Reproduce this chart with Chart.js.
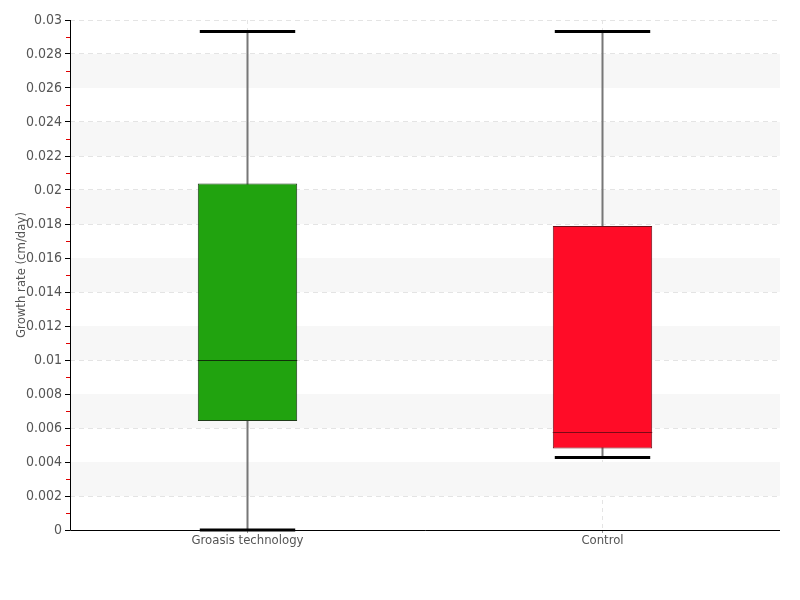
<!DOCTYPE html>
<html>
<head>
  <meta charset="UTF-8">
  <title>Growth rate</title>
  <style>
    body { margin: 0; padding: 0; overflow: hidden; background: #fff; }
    #chart-container { width: 800px; height: 600px; }
  </style>
  <script src="https://cdn.jsdelivr.net/npm/chart.js"></script>
</head>
<body>
  <div id="chart-container">
    <canvas id="chart" width="800" height="600"></canvas>
  </div>

  <script>
    var categories = ['Groasis technology', 'Control'];
    var minValues = [0.0, 0.00427];
    var q1Values = [0.00641, 0.00479];
    var medianValues = [0.0100, 0.00579];
    var q3Values = [0.02038, 0.01788];
    var maxValues = [0.02932, 0.02932];
    var boxColors = ['#21a30f', '#ff0c27'];
    var boxBorders = ['#1e3b18', '#6e1019'];
    var medianColors = ['#10300a', '#7d0a16'];

    var FONT = "'DejaVu Sans Condensed'";

    var boxes = q1Values.map(function (q, i) { return [q, q3Values[i]]; });

    // alternating background bands, red minor ticks, whiskers
    var bands = {
      id: 'bands',
      beforeDatasetsDraw: function (chart) {
        var ctx = chart.ctx, y = chart.scales.y, a = chart.chartArea;
        ctx.save();
        ctx.fillStyle = '#f7f7f7';
        for (var k = 0; k < 15; k++) {
          if (k % 2 === 1) {
            var top = y.getPixelForValue((k + 1) * 0.002);
            var bot = y.getPixelForValue(k * 0.002);
            ctx.fillRect(a.left, top, a.right - a.left, bot - top);
          }
        }
        ctx.strokeStyle = '#e00000';
        ctx.lineWidth = 1;
        for (var m = 0; m < 15; m++) {
          var py = Math.round(y.getPixelForValue(m * 0.002 + 0.001)) + 0.5;
          ctx.beginPath();
          ctx.moveTo(a.left - 4, py);
          ctx.lineTo(a.left, py);
          ctx.stroke();
        }
        // axis lines
        ctx.strokeStyle = '#000';
        ctx.beginPath();
        ctx.moveTo(a.left + 0.5, a.top);
        ctx.lineTo(a.left + 0.5, a.bottom + 0.5);
        ctx.lineTo(a.right, a.bottom + 0.5);
        ctx.stroke();
        // whiskers (behind boxes)
        var meta = chart.getDatasetMeta(0);
        ctx.strokeStyle = '#777';
        ctx.lineWidth = 2;
        meta.data.forEach(function (bar, i) {
          ctx.beginPath();
          ctx.moveTo(bar.x, y.getPixelForValue(minValues[i]));
          ctx.lineTo(bar.x, y.getPixelForValue(maxValues[i]));
          ctx.stroke();
        });
        ctx.restore();
      },
      afterDatasetsDraw: function (chart) {
        var ctx = chart.ctx, y = chart.scales.y;
        var meta = chart.getDatasetMeta(0);
        ctx.save();
        meta.data.forEach(function (bar, i) {
          var half = bar.width / 2;
          ctx.strokeStyle = medianColors[i];
          ctx.lineWidth = 1;
          var my = Math.round(y.getPixelForValue(medianValues[i])) + 0.5;
          ctx.beginPath();
          ctx.moveTo(bar.x - half, my);
          ctx.lineTo(bar.x + half, my);
          ctx.stroke();
          ctx.strokeStyle = '#000';
          ctx.lineWidth = 3;
          [minValues[i], maxValues[i]].forEach(function (v) {
            var cy = y.getPixelForValue(v);
            ctx.beginPath();
            ctx.moveTo(bar.x - half * 0.96, cy);
            ctx.lineTo(bar.x + half * 0.96, cy);
            ctx.stroke();
          });
        });
        ctx.restore();
      }
    };

    var ctx = document.getElementById('chart').getContext('2d');
    var chart = new Chart(ctx, {
      type: 'bar',
      data: {
        labels: categories,
        datasets: [{
          data: boxes,
          backgroundColor: boxColors,
          borderColor: boxBorders,
          borderWidth: 1,
          borderSkipped: false,
          barPercentage: 0.28,
          categoryPercentage: 1
        }]
      },
      options: {
        responsive: false,
        animation: false,
        layout: { padding: { top: 20, right: 20, left: 0, bottom: 0 } },
        plugins: { legend: { display: false }, tooltip: { enabled: false } },
        scales: {
          x: {
            afterFit: function (s) { s.height = 70; },
            grid: { display: true, offset: false, color: '#e4e4e4', drawTicks: true, tickLength: 3, tickColor: '#999', tickBorderDash: [] },
            border: { display: false, dash: [4, 4] },
            ticks: { color: '#555', font: { family: FONT, size: 13 }, padding: 0 }
          },
          y: {
            min: 0,
            max: 0.03,
            afterFit: function (s) { s.width = 70; },
            grid: { color: '#e4e4e4', tickLength: 5, tickColor: '#000', tickBorderDash: [] },
            border: { display: false, dash: [5, 4] },
            ticks: {
              stepSize: 0.002,
              color: '#555',
              padding: 3,
              font: { family: FONT, size: 14 },
              callback: function (v) { return +v.toFixed(3) + ''; }
            },
            title: {
              display: true,
              text: 'Growth rate (cm/day)',
              color: '#555',
              font: { family: FONT, size: 13 },
              padding: { top: 14, bottom: 0 }
            }
          }
        }
      },
      plugins: [bands]
    });
  </script>
</body>
</html>
